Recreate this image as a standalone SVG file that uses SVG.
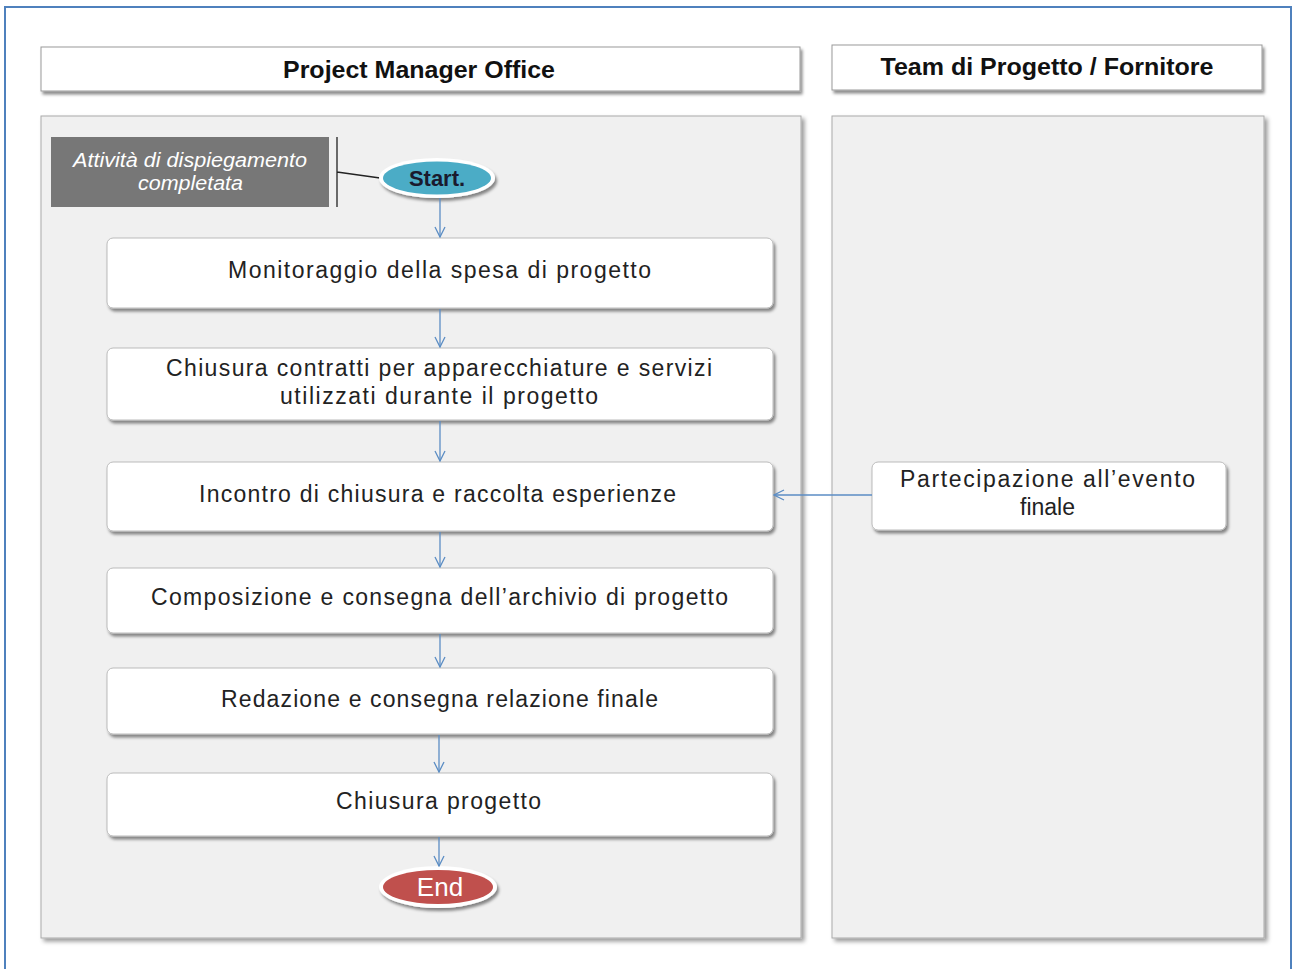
<svg xmlns="http://www.w3.org/2000/svg" width="1293" height="969" viewBox="0 0 1293 969">
<defs>
<filter id="sh" x="-5%" y="-5%" width="115%" height="130%">
<feDropShadow dx="2" dy="3" stdDeviation="1.5" flood-color="#000" flood-opacity="0.45"/>
</filter>
<filter id="shl" x="-5%" y="-5%" width="110%" height="110%">
<feDropShadow dx="3" dy="3" stdDeviation="2" flood-color="#000" flood-opacity="0.4"/>
</filter>
<marker id="ah" viewBox="0 0 12 12" refX="11" refY="6" markerWidth="12" markerHeight="12" markerUnits="userSpaceOnUse" orient="auto">
<path d="M1,1 L11,6 L1,11" fill="none" stroke="#5B8DC4" stroke-width="1.3"/>
</marker>
</defs>
<style>
.hdr{fill:#fff;stroke:#999;stroke-width:1}
.lane{fill:#f0f0f0;stroke:#aaa;stroke-width:1}
.box{fill:#fff;stroke:#bbb;stroke-width:1}
.ht{font-family:"Liberation Sans",Arial,sans-serif;font-weight:bold;font-size:24px;fill:#111;text-anchor:middle}
.bt{font-family:"Liberation Sans",Arial,sans-serif;font-size:23px;fill:#222;text-anchor:middle}
.con{stroke:#5B8DC4;stroke-width:1.3;fill:none;marker-end:url(#ah)}
</style>
<rect x="0" y="0" width="1293" height="969" fill="#fff"/>
<rect x="5" y="7" width="1286" height="975" fill="none" stroke="#4F81BD" stroke-width="2"/>

<g id="header-pmo">
<rect class="hdr" x="41" y="47" width="759" height="44" filter="url(#sh)"/>
<text class="ht" x="419" y="78" textLength="272" lengthAdjust="spacingAndGlyphs">Project Manager Office</text>
</g>
<g id="header-team">
<rect class="hdr" x="832" y="45" width="430" height="45" filter="url(#sh)"/>
<text class="ht" x="1047" y="75" textLength="333" lengthAdjust="spacingAndGlyphs">Team di Progetto / Fornitore</text>
</g>
<g id="lane-pmo">
<rect class="lane" x="41" y="116" width="760" height="822" filter="url(#shl)"/>
</g>
<g id="lane-team">
<rect class="lane" x="832" y="116" width="432" height="822" filter="url(#shl)"/>
</g>

<g id="trigger">
<rect x="51" y="137" width="278" height="70" fill="#777"/>
<text font-family="Liberation Sans,Arial,sans-serif" font-style="italic" font-size="20.5" fill="#fff" text-anchor="middle"><tspan x="190" y="167" textLength="234" lengthAdjust="spacingAndGlyphs">Attività di dispiegamento</tspan><tspan x="190.5" y="190" textLength="105" lengthAdjust="spacingAndGlyphs">completata</tspan></text>
<path d="M337,137 V207 M337,172 L380,178" stroke="#222" stroke-width="1.3" fill="none"/>
</g>

<g id="start">
<ellipse cx="437" cy="178" rx="58" ry="20" fill="#fff" filter="url(#sh)"/>
<ellipse cx="437" cy="178" rx="54" ry="16.5" fill="#4BACC6"/>
<text x="437" y="186" font-family="Liberation Sans,Arial,sans-serif" font-weight="bold" font-size="22" fill="#1a1a2e" text-anchor="middle">Start.</text>
</g>

<g id="n1">
<rect class="box" x="107" y="238" width="666" height="70" rx="6" filter="url(#sh)"/>
<text class="bt" x="439.5" y="278" textLength="423" lengthAdjust="spacing">Monitoraggio della spesa di progetto</text>
</g>
<g id="n2">
<rect class="box" x="107" y="348" width="666" height="72" rx="6" filter="url(#sh)"/>
<text class="bt"><tspan x="439" y="376" textLength="546" lengthAdjust="spacing">Chiusura contratti per apparecchiature e servizi</tspan><tspan x="439" y="404" textLength="318" lengthAdjust="spacing">utilizzati durante il progetto</tspan></text>
</g>
<g id="n3">
<rect class="box" x="107" y="462" width="666" height="69" rx="6" filter="url(#sh)"/>
<text class="bt" x="437.5" y="502" textLength="477" lengthAdjust="spacing">Incontro di chiusura e raccolta esperienze</text>
</g>
<g id="n4">
<rect class="box" x="107" y="568" width="666" height="65" rx="6" filter="url(#sh)"/>
<text class="bt" x="439.5" y="605" textLength="577" lengthAdjust="spacing">Composizione e consegna dell’archivio di progetto</text>
</g>
<g id="n5">
<rect class="box" x="107" y="668" width="666" height="66" rx="6" filter="url(#sh)"/>
<text class="bt" x="439.5" y="707" textLength="437" lengthAdjust="spacing">Redazione e consegna relazione finale</text>
</g>
<g id="n6">
<rect class="box" x="107" y="773" width="666" height="63" rx="6" filter="url(#sh)"/>
<text class="bt" x="438.5" y="809" textLength="205" lengthAdjust="spacing">Chiusura progetto</text>
</g>
<g id="end">
<ellipse cx="438" cy="887" rx="59" ry="21" fill="#fff" filter="url(#sh)"/>
<ellipse cx="438" cy="887" rx="55" ry="17" fill="#C0504D"/>
<text x="440" y="896" font-family="Liberation Sans,Arial,sans-serif" font-size="26" fill="#fff" text-anchor="middle">End</text>
</g>
<g id="n7">
<rect class="box" x="872" y="462" width="354" height="68" rx="6" filter="url(#sh)"/>
<text class="bt"><tspan x="1047.5" y="487" textLength="295" lengthAdjust="spacing">Partecipazione  all’evento</tspan><tspan x="1047.5" y="515">finale</tspan></text>
</g>

<g id="connectors">
<line class="con" x1="440" y1="198" x2="440" y2="237"/>
<line class="con" x1="440" y1="309" x2="440" y2="347"/>
<line class="con" x1="440" y1="421" x2="440" y2="461"/>
<line class="con" x1="440" y1="532" x2="440" y2="567"/>
<line class="con" x1="440" y1="634" x2="440" y2="667"/>
<line class="con" x1="439" y1="735" x2="439" y2="772"/>
<line class="con" x1="439" y1="837" x2="439" y2="866"/>
<line class="con" x1="872" y1="495" x2="774" y2="495"/>
</g>
</svg>
